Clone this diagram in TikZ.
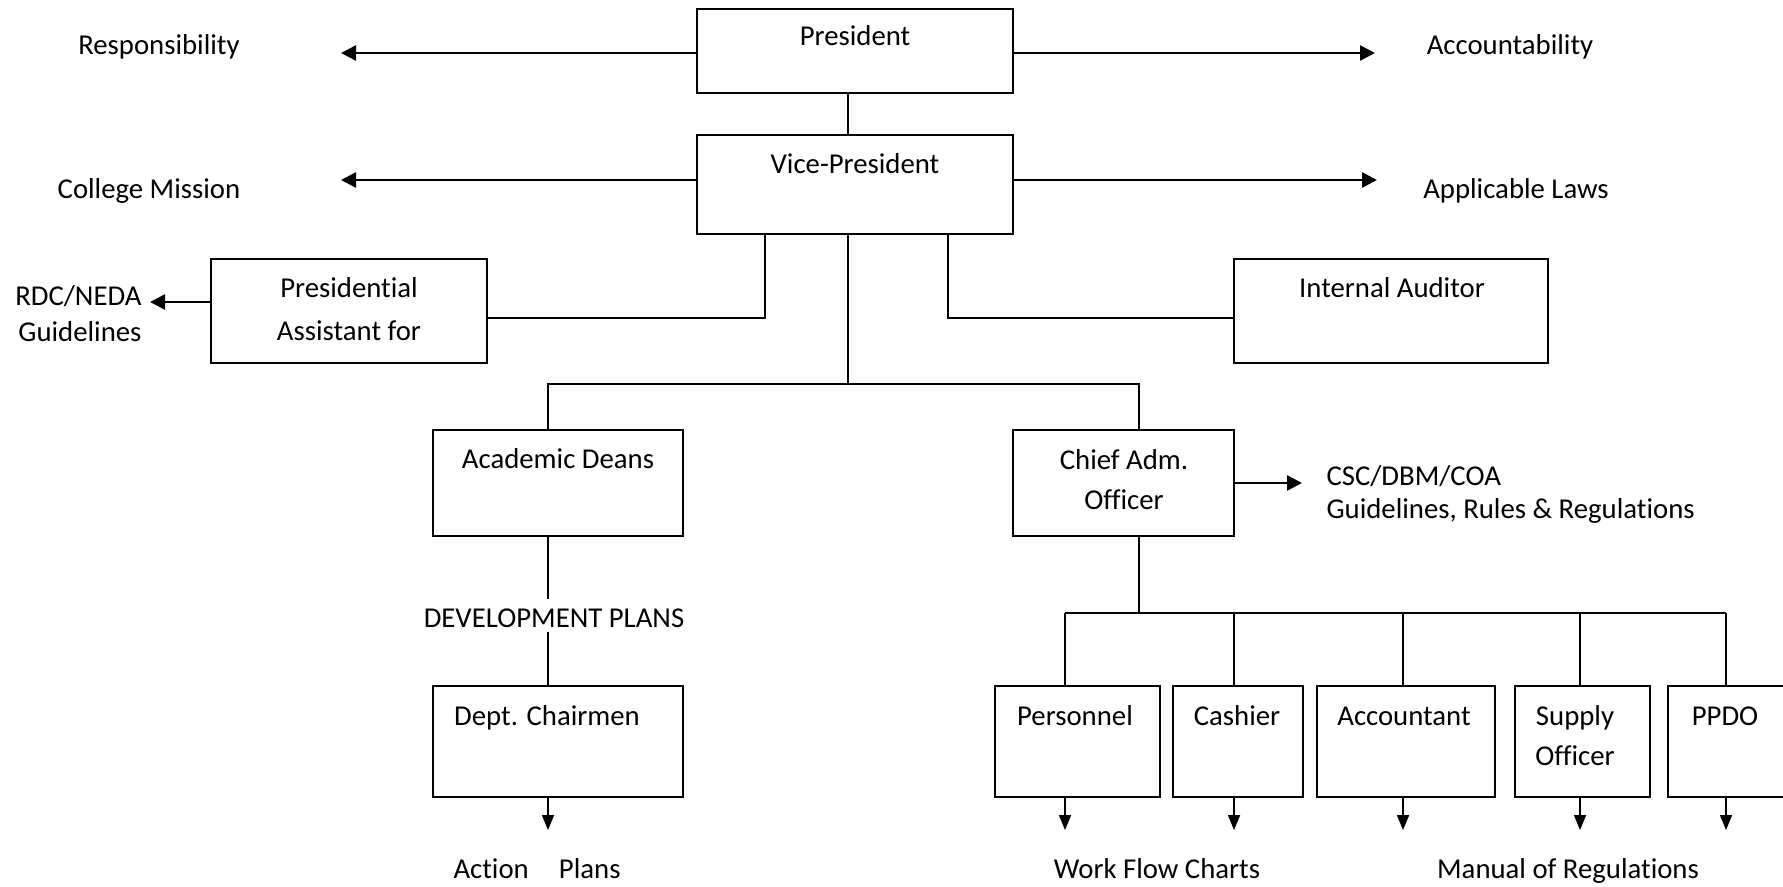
\documentclass[tikz,border=0pt]{standalone}
\usepackage{fontspec}
\setmainfont{Carlito}[Ligatures=NoCommon]
\usetikzlibrary{arrows.meta}

\begin{document}
\begin{tikzpicture}[x=0.4pt, y=-0.4pt,
	font=\fontsize{11.5}{16}\selectfont,
	box/.style 2 args={draw, line width=0.7pt, inner sep=0pt, minimum width=#1*0.4pt, minimum height=#2*0.4pt},
	txt/.style={inner sep=0pt, anchor=base, align=center},
	link/.style={line width=0.45pt},
	bigarr/.style={line width=1pt, -{Triangle[length=6pt, width=6pt]}},
	smallarr/.style={line width=0.7pt, -{Triangle[length=6pt, width=4.8pt]}}]
	\useasboundingbox (0,0) rectangle (1783,886);

	% boxes
	\node[box={316}{84}] (pres) at (855,51) {};
	\node[box={316}{99}] (vp) at (855,184.5) {};
	\node[box={276}{104}] (pa) at (349,311) {};
	\node[box={314}{104}] (ia) at (1391,311) {};
	\node[box={250}{106}] (ad) at (558,483) {};
	\node[box={221}{106}] (cao) at (1123.5,483) {};
	\node[box={250}{111}] (dc) at (558,741.5) {};
	\node[box={165}{111}] (pers) at (1077.5,741.5) {};
	\node[box={130}{111}] (cash) at (1238,741.5) {};
	\node[box={178}{111}] (acct) at (1406,741.5) {};
	\node[box={135}{111}] (supp) at (1582.5,741.5) {};
	\node[box={122}{111}] (ppdo) at (1729,741.5) {};

	% box texts (multi-line ones sit on their last line)
	\node[txt] (pres-t) at (855,46) {President};
	\node[txt] (vp-t) at (855,173) {Vice-President};
	\node[txt, font=\fontsize{11.5}{17.2}\selectfont] (pa-t) at (349,340) {Presidential\\Assistant for};
	\node[txt] (ia-t) at (1392,297) {Internal Auditor};
	\node[txt] (ad-t) at (558,468) {Academic Deans};
	\node[txt] (cao-t) at (1124,509) {Chief Adm.\\Officer};
	\node[txt] (dc-t) at (547,725) {Dept. Chairmen};
	\node[txt] (pers-t) at (1075,725) {Personnel};
	\node[txt] (cash-t) at (1237,725) {Cashier};
	\node[txt] (acct-t) at (1404,725) {Accountant};
	\node[txt] (supp-t) at (1575,765) {Supply\\Officer};
	\node[txt] (ppdo-t) at (1725,725) {PPDO};

	% outside texts
	\node[txt] (resp) at (159,55) {Responsibility};
	\node[txt] (acc) at (1510,55) {Accountability};
	\node[txt] (mission) at (149,198) {College Mission};
	\node[txt] (laws) at (1516,198) {Applicable Laws};
	\node[txt, align=right, anchor=base east, font=\fontsize{11.5}{14.4}\selectfont] (rdc) at (142,341) {RDC/NEDA\\Guidelines};
	\node[txt] (dp) at (554,627) {DEVELOPMENT PLANS};
	\node[txt, anchor=base west] (action) at (453,878) {Action\hspace*{1.05em}Plans};
	\node[txt, align=left, anchor=base west, font=\fontsize{11.5}{13.2}\selectfont] (csc) at (1326,518) {CSC/DBM/COA\\Guidelines, Rules \& Regulations};
	\node[txt] (wfc) at (1157,878) {Work Flow Charts};
	\node[txt] (manual) at (1568,878) {Manual of Regulations};

	% arrows to the sides
	\coordinate (respTip) at (341,53);
	\coordinate (accTip) at (1375,53);
	\coordinate (missionTip) at (341,180);
	\coordinate (lawsTip) at (1377,180);
	\coordinate (rdcTip) at (150,302);
	\coordinate (cscTip) at (1302,483);
	\draw[bigarr] (pres.west |- respTip) -- (respTip);
	\draw[bigarr] (pres.east |- accTip) -- (accTip);
	\draw[bigarr] (vp.west |- missionTip) -- (missionTip);
	\draw[bigarr] (vp.east |- lawsTip) -- (lawsTip);
	\draw[bigarr] (pa.west |- rdcTip) -- (rdcTip);
	\draw[bigarr] (cao.east) -- (cscTip);

	% links
	\coordinate (vpBus) at (848,384);
	\coordinate (adTop) at (548,384);
	\coordinate (caoTop) at (1139,384);
	\coordinate (paBend) at (765,318);
	\coordinate (iaBend) at (948,318);
	\draw[link] (pres.south -| vpBus) -- (vp.north -| vpBus);
	\draw[link] (vp.south -| vpBus) -- (vpBus);
	\draw[link] (vp.south -| paBend) -- (paBend) -- (pa.east |- paBend);
	\draw[link] (vp.south -| iaBend) -- (iaBend) -- (ia.west |- iaBend);
	\draw[link] (ad.north -| adTop) -- (adTop) -- (caoTop) -- (cao.north -| caoTop);
	\draw[link, shorten >=3.6pt] (ad.south -| adTop) -- (dp.north -| adTop);
	\draw[link, shorten <=1.6pt] (dp.south -| adTop) -- (dc.north -| adTop);
	\coordinate (dcTip) at (548,830);
	\draw[smallarr] (dc.south -| dcTip) -- (dcTip);

	% staff under the chief adm. officer
	\coordinate (caoBus) at (1139,613);
	\draw[link] (cao.south -| caoBus) -- (caoBus);
	\foreach \b/\x in {pers/1065, cash/1234, acct/1403, supp/1580, ppdo/1726}{
		\coordinate (drop-\b) at (\x,613);
		\coordinate (tip-\b) at (\x,830);
		\draw[link] (drop-\b) -- (drop-\b |- \b.north);
		\draw[smallarr] (\b.south -| tip-\b) -- (tip-\b);
	}
	\draw[link] (drop-pers) -- (drop-ppdo);
\end{tikzpicture}
\end{document}
